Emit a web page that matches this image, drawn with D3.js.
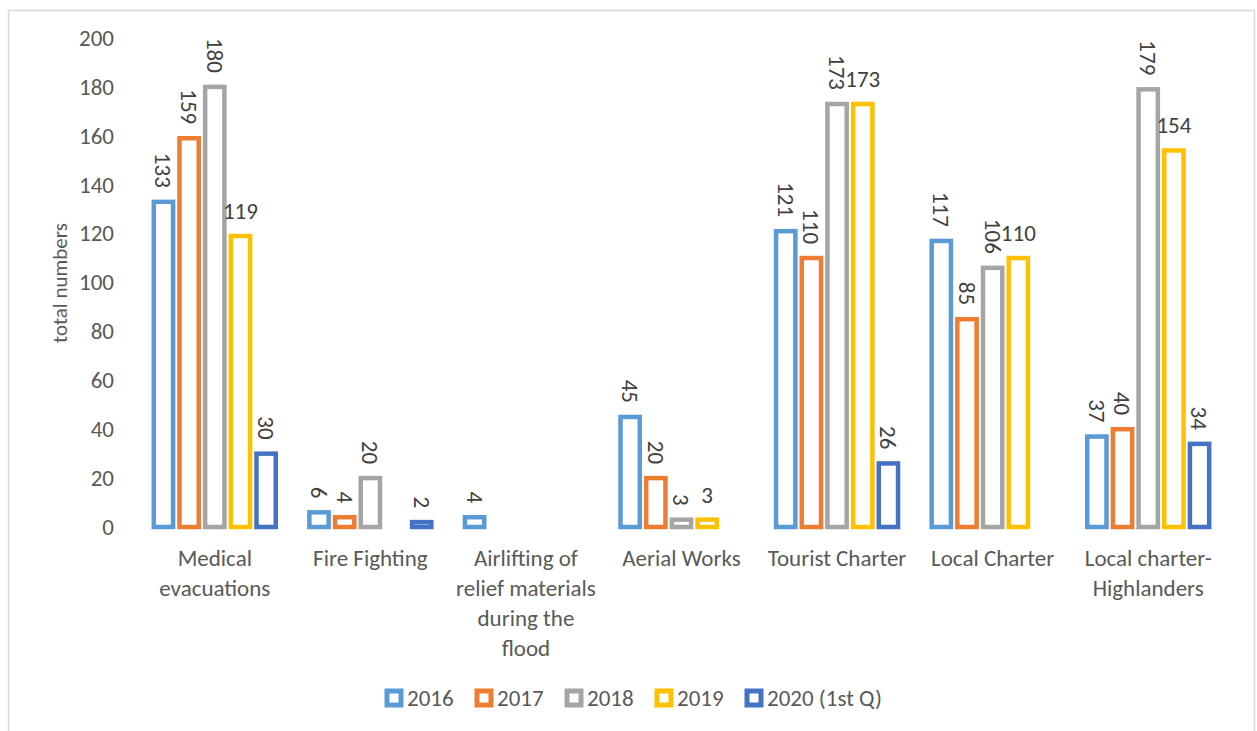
<!DOCTYPE html>
<html>
<head>
<meta charset="utf-8">
<script src="https://cdn.jsdelivr.net/npm/d3@7"></script>
<style>
  body { margin: 0; background: #fff; }
  svg { font-family: Carlito, Calibri, Lato, sans-serif; }
</style>
</head>
<body>
<svg id="chart" width="1257" height="731"></svg>
<script>
var categories = ["Medical evacuations", "Fire Fighting", "Airlifting of relief materials during the flood",
    "Aerial Works", "Tourist Charter", "Local Charter", "Local charter-Highlanders"];
var categoryLines = [["Medical", "evacuations"], ["Fire Fighting"], ["Airlifting of", "relief materials", "during the", "flood"],
    ["Aerial Works"], ["Tourist Charter"], ["Local Charter"], ["Local charter-", "Highlanders"]];
var seriesNames = ["2016", "2017", "2018", "2019", "2020 (1st Q)"];
var values2016 = [133, 6, 4, 45, 121, 117, 37];
var values2017 = [159, 4, null, 20, 110, 85, 40];
var values2018 = [180, 20, null, 3, 173, 106, 179];
var values2019 = [119, null, null, 3, 173, 110, 154];
var values2020 = [30, 2, null, null, 26, null, 34];
var yTicks = [0, 20, 40, 60, 80, 100, 120, 140, 160, 180, 200];
var colors = ["#5B9BD5", "#ED7D31", "#A5A5A5", "#FFC000", "#4472C4"];

var allValues = [values2016, values2017, values2018, values2019, values2020];

var svg = d3.select("#chart");

// chart frame
svg.append("rect")
    .attr("x", 8.5).attr("y", 10.5)
    .attr("width", 1246).attr("height", 760)
    .attr("fill", "none")
    .attr("stroke", "#d9d9d9")
    .attr("stroke-width", 1.5);

var yScale = d3.scaleLinear().domain([0, 200]).range([527, 38]);

var x0 = d3.scaleBand().domain(categories).range([137, 1226]);
var x1 = d3.scaleBand().domain(seriesNames).range([0, x0.bandwidth()]).paddingOuter(0.53);

var yAxis = d3.axisLeft(yScale).tickValues(yTicks).tickSize(0).tickPadding(23);

var yG = svg.append("g")
    .attr("transform", "translate(137,0)")
    .call(yAxis);
yG.select(".domain").remove();
yG.selectAll("text")
    .attr("fill", "#595959")
    .style("font-size", "23px")
    .style("font-family", "Carlito, Calibri, Lato, sans-serif");

svg.append("text")
    .attr("transform", "translate(67,283) rotate(-90)")
    .attr("text-anchor", "middle")
    .attr("fill", "#595959")
    .style("font-size", "21px")
    .text("total numbers");

// bars
var gap = 3.2;
seriesNames.forEach(function(s, si) {
    var rows = categories.map(function(c, ci) { return {cat: c, v: allValues[si][ci]}; })
        .filter(function(d) { return d.v != null; });

    svg.append("g").selectAll("rect")
        .data(rows)
        .enter().append("rect")
        .attr("x", function(d) { return x0(d.cat) + x1(s) + gap; })
        .attr("y", function(d) { return yScale(d.v); })
        .attr("width", x1.bandwidth() - 2 * gap)
        .attr("height", function(d) { return yScale(0) - yScale(d.v); })
        .attr("fill", "#fff")
        .attr("stroke", colors[si])
        .attr("stroke-width", 4.5);

    var labels = svg.append("g").selectAll("text")
        .data(rows)
        .enter().append("text")
        .attr("fill", "#404040")
        .style("font-size", "23px")
        .text(function(d) { return d.v; });

    if (si == 3) {
        labels
            .attr("x", function(d) { return x0(d.cat) + x1(s) + x1.bandwidth() / 2; })
            .attr("y", function(d) { return yScale(d.v) - 17; })
            .attr("text-anchor", "middle");
    }
    else {
        labels
            .attr("transform", function(d) {
                return "translate(" + (x0(d.cat) + x1(s) + x1.bandwidth() / 2) + "," + (yScale(d.v) - 14) + ") rotate(90)";
            })
            .attr("text-anchor", "end")
            .attr("dy", "0.35em");
    }
});

// category labels
categories.forEach(function(c, ci) {
    var t = svg.append("text")
        .attr("text-anchor", "middle")
        .attr("fill", "#595959")
        .style("font-size", "23px");
    categoryLines[ci].forEach(function(line, li) {
        t.append("tspan")
            .attr("x", x0(c) + x0.bandwidth() / 2)
            .attr("y", 566 + li * 30)
            .text(line);
    });
});

// legend
var legendX = [387, 477, 567, 657, 747];
seriesNames.forEach(function(s, si) {
    var g = svg.append("g").attr("transform", "translate(" + legendX[si] + ",698)");
    g.append("rect")
        .attr("x", 0).attr("y", -7)
        .attr("width", 14).attr("height", 14)
        .attr("fill", "#fff")
        .attr("stroke", colors[si])
        .attr("stroke-width", 5);
    g.append("text")
        .attr("x", 20)
        .attr("y", 8)
        .attr("fill", "#595959")
        .style("font-size", "23px")
        .text(s);
});
</script>
</body>
</html>
